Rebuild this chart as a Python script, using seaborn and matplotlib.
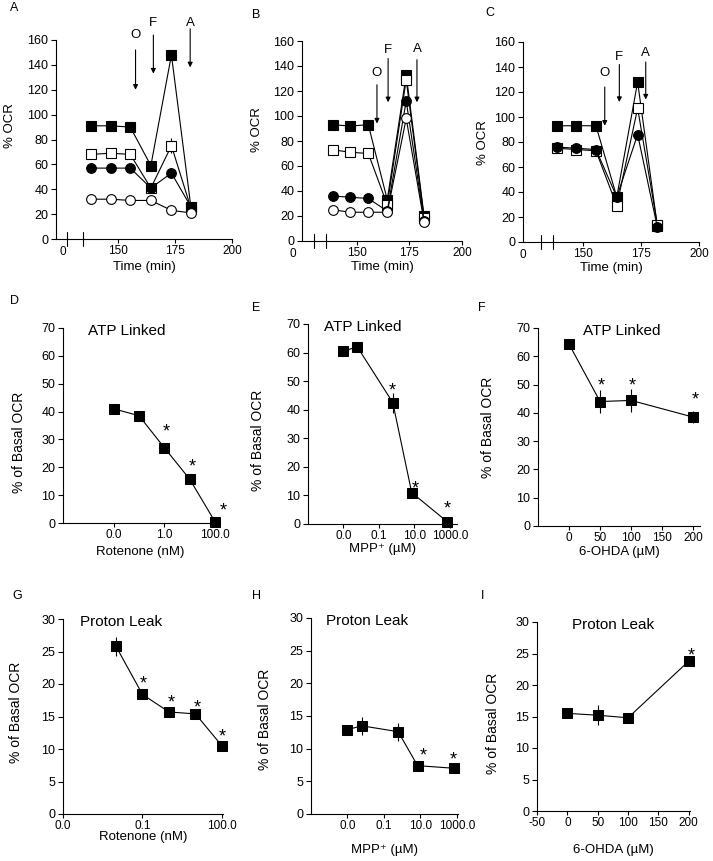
import matplotlib.pyplot as plt
import matplotlib.ticker as mticker
import seaborn as sns

W, H = 713, 861

# ---- time courses (panels A-C), % OCR ----
times = [138.5, 147, 155.5, 164.5, 173.5, 182]

a_fsq = [91, 91, 90, 59, 148, 26]
a_osq = [68, 69, 68, 41, 75, 25]
a_fci = [57, 57, 57, 41, 53, 26]
a_oci = [32, 32, 31, 31, 23, 21]
a_osq_err = [0, 0, 0, 0, 6, 0]

b_fsq = [93, 92, 93, 33, 133, 20]
b_osq = [73, 71, 70, 29, 129, 18]
b_fci = [36, 35, 34, 24, 112, 16]
b_oci = [25, 23, 23, 23, 98, 15]
b_osq_err = [3, 3, 3, 0, 0, 0]

c_fsq = [93, 93, 93, 36, 128, 13]
c_osq = [75, 74, 73, 29, 107, 14]
c_fci = [76, 75, 74, 36, 86, 12]

# injections O / F / A: time, arrow start, arrow end, label height
inj_names = ["O", "F", "A"]
a_inj_t = [157.8, 165.6, 181.7]
a_inj_top = [152, 164, 169]
a_inj_end = [120, 133, 138]
a_inj_lab = [164, 174, 174]
b_inj_t = [159.6, 164.9, 178.6]
b_inj_top = [125, 146, 145]
b_inj_end = [94, 111, 111]
b_inj_lab = [134, 153, 154]
c_inj_t = [159.3, 165.6, 177]
c_inj_top = [124, 142, 144]
c_inj_end = [93, 112, 114]
c_inj_lab = [135, 148, 151]

# ---- dose responses (panels D-I), % of basal OCR ----
rot_conc = [0.01, 0.1, 1, 10, 100]        # nM
mpp_conc = [0.001, 0.006, 0.6, 7, 700]    # uM
ohda_conc = [0, 50, 100, 200]             # uM

d_atp = [41, 38.5, 27, 15.7, 0.4]
d_err = [0.6, 0.6, 0.6, 0.6, 0.3]
e_atp = [60.5, 62, 42.5, 11, 0.8]
e_err = [1, 1, 3.5, 1, 0.5]
f_atp = [64.3, 44, 44.4, 38.5]
f_err = [1, 4, 4, 2]
g_leak = [25.8, 18.4, 15.7, 15.4, 10.5]
g_err = [1.5, 0.5, 0.4, 0.4, 0.4]
h_leak = [12.9, 13.5, 12.6, 7.4, 7.0]
h_err = [0.4, 1.4, 1.4, 0.3, 0.6]
i_leak = [15.5, 15.2, 14.8, 23.8]
i_err = [0.4, 1.6, 0.4, 0.4]

d_sig = [2, 3, 4]
e_sig = [2, 3, 4]
f_sig = [1, 2, 3]
g_sig = [1, 2, 3, 4]
h_sig = [3, 4]
i_sig = [3]

sns.set_theme(style="ticks")
plt.rcParams["font.family"] = ["Liberation Sans", "DejaVu Sans"]
plt.rcParams.update({
    "axes.edgecolor": "black", "axes.linewidth": 0.8,
    "xtick.color": "black", "ytick.color": "black",
    "xtick.major.size": 3, "ytick.major.size": 3.5,
    "xtick.major.width": 0.8, "ytick.major.width": 0.8,
    "xtick.major.pad": 1.5, "ytick.major.pad": 2,
    "xtick.labelsize": 8.5, "ytick.labelsize": 9,
    "axes.labelsize": 9.5, "text.color": "black", "axes.labelcolor": "black",
})

fig = plt.figure(figsize=(W / 100, H / 100), dpi=100)


def px_axes(rect):
    l, t, r, b = rect
    return fig.add_axes([l / W, 1 - b / H, (r - l) / W, (b - t) / H])


def place_labels(ax, rect, xlab_y, ylab_x, ylab_y):
    l, t, r, b = rect
    ax.xaxis.set_label_coords(0.5, -(xlab_y - 7 - b) / (b - t))
    ax.yaxis.set_label_coords((ylab_x + 6 - l) / (r - l), (b - ylab_y) / (b - t))


def time_panel(rect, xlo, zero_x, breaks, series, errs, inj):
    ax = px_axes(rect)
    styles = [("s", "black", 7.5), ("s", "white", 7.5), ("o", "black", 7), ("o", "white", 7)]
    for vals, (m, fc, ms), err in zip(series, styles, errs):
        if err is not None:
            ax.errorbar(times, vals, yerr=err, fmt="none", ecolor="black",
                        elinewidth=0.8, capsize=0, zorder=1)
        sns.lineplot(x=times, y=vals, ax=ax, color="black", lw=0.8, marker=m,
                     markersize=ms, markerfacecolor=fc, markeredgecolor="black",
                     markeredgewidth=0.8, clip_on=False)
    ax.set_xlim(xlo, 200)
    ax.set_ylim(0, 160)
    ax.set_yticks(range(0, 161, 20))
    ax.set_xticks([150, 175, 200])
    ax.set_xlabel("Time (min)")
    ax.set_ylabel("% OCR")
    ax.annotate("0", xy=(zero_x, 0), xycoords=ax.get_xaxis_transform(),
                xytext=(0, -7), textcoords="offset pixels", ha="center",
                va="top", fontsize=8.5, annotation_clip=False)
    for xb in breaks:
        ax.plot([xb, xb], [-0.035, 0.035], transform=ax.get_xaxis_transform(),
                color="black", lw=0.8, clip_on=False)
    t_list, top, end, lab = inj
    for name, t, y0, y1, yl in zip(inj_names, t_list, top, end, lab):
        ax.annotate("", xy=(t, y1), xytext=(t, y0),
                    arrowprops=dict(arrowstyle="-|>", color="black", lw=0.8,
                                    mutation_scale=7, shrinkA=0, shrinkB=0),
                    annotation_clip=False)
        ax.text(t, yl, name, ha="center", va="center", fontsize=9.5)
    sns.despine(ax=ax)
    return ax


def dose_panel(rect, x, y, err, sig, star_off, title, title_x, ylim, ystep, xlim, log,
               ticks, ticklabels, xlabel):
    ax = px_axes(rect)
    if log:
        ax.set_xscale("log")
    ax.errorbar(x, y, yerr=err, fmt="none", ecolor="black", elinewidth=0.8,
                capsize=0, zorder=1)
    sns.lineplot(x=x, y=y, ax=ax, color="black", lw=0.8, marker="s",
                 markersize=7.5, markerfacecolor="black", markeredgecolor="black",
                 clip_on=False)
    for i, (dx, dy) in zip(sig, star_off):
        ax.annotate("*", xy=(x[i], y[i]), xytext=(dx, dy - 10),
                    textcoords="offset pixels", ha="center", va="baseline",
                    fontsize=13, annotation_clip=False)
    ax.set_xlim(*xlim)
    ax.set_ylim(0, ylim)
    ax.set_yticks(range(0, ylim + 1, ystep))
    ax.set_xticks(ticks)
    ax.set_xticklabels(ticklabels)
    ax.xaxis.set_minor_locator(mticker.NullLocator())
    ax.set_xlabel(xlabel)
    ax.set_ylabel("% of Basal OCR", fontsize=10)
    ax.text(title_x, 0.985, title, transform=ax.transAxes, ha="center",
            va="center", fontsize=11)
    sns.despine(ax=ax)
    return ax


rA, rB, rC = (56, 40, 232, 239), (302, 41, 462, 241), (523, 42, 699, 242)
axA = time_panel(rA, 123, 126, [127.8, 134.7], [a_fsq, a_osq, a_fci, a_oci],
                 [None, a_osq_err, None, None], (a_inj_t, a_inj_top, a_inj_end, a_inj_lab))
axB = time_panel(rB, 124, 119.7, [129.7, 135.4], [b_fsq, b_osq, b_fci, b_oci],
                 [None, b_osq_err, None, None], (b_inj_t, b_inj_top, b_inj_end, b_inj_lab))
axC = time_panel(rC, 124, 124, [131.8, 137], [c_fsq, c_osq, c_fci],
                 [None, None, None], (c_inj_t, c_inj_top, c_inj_end, c_inj_lab))
place_labels(axA, rA, 268, 10, 126)
place_labels(axB, rB, 268, 257, 130)
place_labels(axC, rC, 269, 483, 143)

rD, rE, rF = (63, 328, 218, 523), (308, 324, 457, 524), (538, 328, 700, 526)
rG, rH, rI = (63, 619, 223, 814), (311, 618, 458, 814), (537, 622, 690, 811)
mpp_label = "MPP\u207a (\u00b5M)"
ohda_label = "6-OHDA (\u00b5M)"

axD = dose_panel(rD, rot_conc, d_atp, d_err, d_sig, [(2, 21), (2, 18), (8, 16)],
                 "ATP Linked", 0.41, 70, 10, (1e-4, 130), True,
                 [1e-2, 1, 100], ["0.0", "1.0", "100.0"], "Rotenone (nM)")
axE = dose_panel(rE, mpp_conc, e_atp, e_err, e_sig, [(-1, 17), (4, 9), (0, 18)],
                 "ATP Linked", 0.37, 70, 10, (1e-5, 2500), True,
                 [1e-3, 0.1, 10, 1000], ["0.0", "0.1", "10.0", "1000.0"], mpp_label)
axF = dose_panel(rF, ohda_conc, f_atp, f_err, f_sig, [(1, 21), (1, 20), (2, 23)],
                 "ATP Linked", 0.52, 70, 10, (-50, 211), False,
                 [0, 50, 100, 150, 200], ["0", "50", "100", "150", "200"], ohda_label)
axG = dose_panel(rG, rot_conc, g_leak, g_err, g_sig, [(1, 16), (2, 14), (2, 11), (0, 14)],
                 "Proton Leak", 0.36, 30, 5, (1e-4, 110), True,
                 [1e-4, 0.1, 100], ["0.0", "0.1", "100.0"], "Rotenone (nM)")
axH = dose_panel(rH, mpp_conc, h_leak, h_err, h_sig, [(6, 15), (-1, 14)],
                 "Proton Leak", 0.38, 30, 5, (1e-5, 1150), True,
                 [1e-3, 0.1, 10, 1000], ["0.0", "0.1", "10.0", "1000.0"], mpp_label)
axI = dose_panel(rI, ohda_conc, i_leak, i_err, i_sig, [(2, 11)],
                 "Proton Leak", 0.50, 30, 5, (-50, 202), False,
                 [-50, 0, 50, 100, 150, 200], ["-50", "0", "50", "100", "150", "200"], ohda_label)

place_labels(axD, rD, 553, 20, 442)
place_labels(axE, rE, 550, 259, 440)
place_labels(axF, rF, 553, 489, 427)
place_labels(axG, rG, 838, 17, 712)
place_labels(axH, rH, 851, 266, 719)
place_labels(axI, rI, 851, 494, 723)

letters = [("A", 10, 8), ("B", 252, 15), ("C", 485, 13), ("D", 10, 301), ("E", 252, 308),
           ("F", 478, 308), ("G", 12, 596), ("H", 252, 596), ("I", 481, 596)]
for name, lx, ly in letters:
    fig.text(lx / W, 1 - ly / H, name, ha="left", va="center", fontsize=9)

fig.savefig("out.png", dpi=100)
